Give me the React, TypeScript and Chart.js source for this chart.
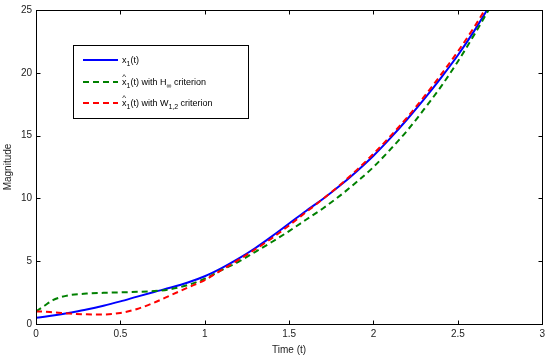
import React, { useEffect, useRef } from 'react';
import { Chart, registerables } from 'chart.js';

Chart.register(...registerables);

// ---- data ----
const TIME = [0, 0.05, 0.1, 0.15, 0.2, 0.3, 0.4, 0.5, 0.6, 0.7, 0.8, 0.9, 1.0, 1.1, 1.2, 1.3, 1.4, 1.5, 1.6, 1.7, 1.8, 1.9, 2.0, 2.1, 2.2, 2.3, 2.4, 2.5, 2.6, 2.7];
const X1 = [0.5, 0.58, 0.67, 0.78, 0.9, 1.15, 1.45, 1.8, 2.18, 2.55, 2.9, 3.3, 3.8, 4.45, 5.2, 6.05, 7.0, 8.0, 9.0, 9.95, 11.0, 12.15, 13.4, 14.8, 16.3, 17.9, 19.6, 21.4, 23.4, 25.6];
const X1_HAT_HINF = [1.0, 1.45, 1.9, 2.15, 2.3, 2.42, 2.48, 2.52, 2.56, 2.62, 2.78, 3.1, 3.6, 4.3, 4.95, 5.75, 6.55, 7.4, 8.3, 9.2, 10.2, 11.3, 12.5, 13.9, 15.4, 17.1, 18.9, 20.9, 23.1, 25.4];
const X1_HAT_W12 = [1.0, 0.98, 0.93, 0.88, 0.83, 0.77, 0.76, 0.88, 1.2, 1.7, 2.3, 2.9, 3.5, 4.3, 5.1, 5.95, 6.85, 7.85, 8.9, 9.95, 11.05, 12.25, 13.55, 14.95, 16.45, 18.1, 19.85, 21.7, 23.7, 25.9];

const X_TICKS = [0, 0.5, 1, 1.5, 2, 2.5, 3];
const Y_TICKS = [0, 5, 10, 15, 20, 25];

const X_TITLE = 'Time (t)';
const Y_TITLE = 'Magnitude';

type Part = { t: string; sub?: boolean; hat?: boolean };
const LEGEND_ITEMS: { parts: Part[]; color: string; dash: number[] }[] = [
  { parts: [{ t: 'x' }, { t: '1', sub: true }, { t: '(t)' }], color: '#0000ff', dash: [] },
  {
    parts: [{ t: 'x', hat: true }, { t: '1', sub: true }, { t: '(t) with H' }, { t: '∞', sub: true }, { t: ' criterion' }],
    color: '#008000',
    dash: [6, 4],
  },
  {
    parts: [{ t: 'x', hat: true }, { t: '1', sub: true }, { t: '(t) with W' }, { t: '1,2', sub: true }, { t: ' criterion' }],
    color: '#ff0000',
    dash: [6, 4],
  },
];

const FONT = '"Liberation Sans", Arial, Helvetica, sans-serif';

const frameAndLegend = {
  id: 'frameAndLegend',
  afterDatasetsDraw(chart: any) {
    const { ctx, chartArea: a, scales } = chart;
    ctx.save();
    ctx.strokeStyle = '#000';
    ctx.lineWidth = 1;
    ctx.setLineDash([]);
    const L = Math.round(a.left) + 0.5;
    const R = Math.round(a.right) + 0.5;
    const T = Math.round(a.top) + 0.5;
    const B = Math.round(a.bottom) + 0.5;
    ctx.strokeRect(L, T, R - L, B - T);
    const tl = 4;
    ctx.beginPath();
    for (const v of X_TICKS) {
      const x = Math.round(scales.x.getPixelForValue(v)) + 0.5;
      ctx.moveTo(x, B);
      ctx.lineTo(x, B - tl);
      ctx.moveTo(x, T);
      ctx.lineTo(x, T + tl);
    }
    for (const v of Y_TICKS) {
      const y = Math.round(scales.y.getPixelForValue(v)) + 0.5;
      ctx.moveTo(L, y);
      ctx.lineTo(L + tl, y);
      ctx.moveTo(R, y);
      ctx.lineTo(R - tl, y);
    }
    ctx.stroke();

    // legend box
    const bx = 73.5, by = 45.5, bw = 175, bh = 73;
    ctx.fillStyle = '#fff';
    ctx.fillRect(bx, by, bw, bh);
    ctx.strokeRect(bx, by, bw, bh);
    const rows = [60, 82, 103];
    LEGEND_ITEMS.forEach((item, i) => {
      const y = rows[i];
      ctx.strokeStyle = item.color;
      ctx.lineWidth = 2;
      ctx.setLineDash(item.dash);
      ctx.beginPath();
      ctx.moveTo(83, y);
      ctx.lineTo(118, y);
      ctx.stroke();
      ctx.setLineDash([]);
      let x = 122;
      ctx.fillStyle = '#000';
      ctx.textBaseline = 'alphabetic';
      ctx.textAlign = 'left';
      const base = y + 3;
      for (const p of item.parts) {
        if (p.sub) {
          ctx.font = `7px ${FONT}`;
          ctx.fillText(p.t, x, base + 3);
          x += ctx.measureText(p.t).width;
        } else {
          ctx.font = `9px ${FONT}`;
          ctx.fillText(p.t, x, base);
          const w = ctx.measureText(p.t).width;
          if (p.hat) {
            ctx.font = `8px ${FONT}`;
            ctx.textAlign = 'center';
            ctx.fillText('^', x + w / 2, base - 6);
            ctx.textAlign = 'left';
          }
          x += w;
        }
      }
    });
    ctx.restore();
  },
};

export default function App() {
  const ref = useRef<HTMLCanvasElement | null>(null);
  useEffect(() => {
    document.body.style.margin = '0';
    const canvas = ref.current!;
    const mk = (ys: number[]) => TIME.map((t, i) => ({ x: t, y: ys[i] }));
    const chart = new Chart(canvas, {
      type: 'line',
      data: {
        datasets: [
          { label: 'x1', data: mk(X1), borderColor: '#0000ff', borderWidth: 2, pointRadius: 0, cubicInterpolationMode: 'monotone', order: 2 },
          { label: 'hinf', data: mk(X1_HAT_HINF), borderColor: '#008000', borderWidth: 2, borderDash: [6, 4], pointRadius: 0, cubicInterpolationMode: 'monotone', order: 1 },
          { label: 'w12', data: mk(X1_HAT_W12), borderColor: '#ff0000', borderWidth: 2, borderDash: [6, 4], pointRadius: 0, cubicInterpolationMode: 'monotone', order: 0 },
        ],
      },
      options: {
        animation: false,
        responsive: false,
        devicePixelRatio: 1,
        layout: { padding: { top: 8, right: 6, left: 0, bottom: 0 } },
        plugins: { legend: { display: false }, tooltip: { enabled: false } },
        scales: {
          x: {
            type: 'linear',
            min: 0,
            max: 3,
            grid: { display: false, drawTicks: false },
            border: { display: false },
            afterBuildTicks: (s: any) => { s.ticks = X_TICKS.map((v) => ({ value: v })); },
            afterFit: (s: any) => { s.height = 40; },
            ticks: { font: { family: FONT, size: 10 }, color: '#222', padding: 4, maxRotation: 0, autoSkip: false, callback: (v: any) => String(v) },
            title: { display: true, text: X_TITLE, font: { family: FONT, size: 10 }, color: '#222', padding: { top: 0, bottom: 8 } },
          },
          y: {
            type: 'linear',
            min: 0,
            max: 25,
            grid: { display: false, drawTicks: false },
            border: { display: false },
            afterBuildTicks: (s: any) => { s.ticks = Y_TICKS.map((v) => ({ value: v })); },
            afterFit: (s: any) => { s.width = 36; },
            ticks: { font: { family: FONT, size: 10 }, color: '#222', padding: 4, autoSkip: false, callback: (v: any) => String(v) },
            title: { display: true, text: Y_TITLE, font: { family: FONT, size: 10 }, color: '#222', padding: { top: 2, bottom: 0 } },
          },
        },
      },
      plugins: [frameAndLegend],
    } as any);
    return () => chart.destroy();
  }, []);
  return (
    <div style={{ width: 549, height: 364 }}>
      <canvas ref={ref} width={549} height={364} style={{ display: 'block' }} />
    </div>
  );
}
